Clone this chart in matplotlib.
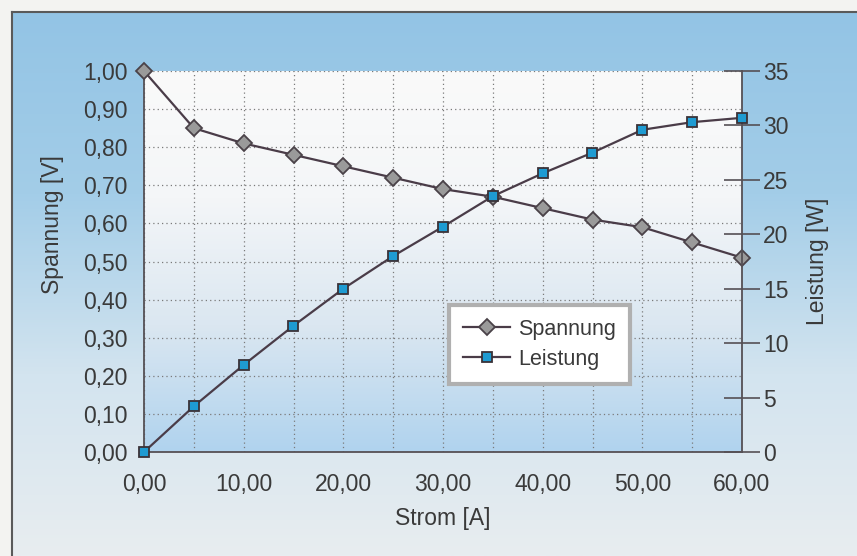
import numpy as np
import matplotlib
matplotlib.use("Agg")
import matplotlib.pyplot as plt
from matplotlib.lines import Line2D
from matplotlib.colors import LinearSegmentedColormap

# Data
strom = [0, 5, 10, 15, 20, 25, 30, 35, 40, 45, 50, 55, 60]
spannung = [1.00, 0.85, 0.81, 0.78, 0.75, 0.72, 0.69, 0.67, 0.64, 0.61, 0.59, 0.55, 0.51]
leistung = [0.0, 4.2, 8.0, 11.6, 15.0, 18.0, 20.7, 23.5, 25.6, 27.5, 29.6, 30.3, 30.7]
x_ticks = [0, 10, 20, 30, 40, 50, 60]
x_labels = ["0,00", "10,00", "20,00", "30,00", "40,00", "50,00", "60,00"]
y1_ticks = [0.0, 0.1, 0.2, 0.3, 0.4, 0.5, 0.6, 0.7, 0.8, 0.9, 1.0]
y1_labels = ["0,00", "0,10", "0,20", "0,30", "0,40", "0,50", "0,60", "0,70", "0,80", "0,90", "1,00"]
y2_ticks = [0, 5, 10, 15, 20, 25, 30, 35]

plt.rcParams['font.family'] = ['Liberation Sans', 'DejaVu Sans']
TXT = '#3a3a3a'
LINE = '#4a3c48'
FS = 16.5

W, H = 857, 556
fig = plt.figure(figsize=(W / 100, H / 100), dpi=100)
fig.patch.set_facecolor('#f3f3f1')

# Framed gradient background
bg = fig.add_axes([12 / W, 0, 1 - 12 / W, 1 - 12 / H])
bg_cmap = LinearSegmentedColormap.from_list('bg', ['#e8edf0', '#d3e4ef', '#a3cde8', '#93c4e5'])
grad = np.linspace(0, 1, 256).reshape(-1, 1)
bg.imshow(grad, aspect='auto', cmap=bg_cmap, origin='lower', extent=[0, 1, 0, 1])
bg.set_xlim(0, 1); bg.set_ylim(0, 1)
bg.set_xticks([]); bg.set_yticks([])
for s in ['right', 'bottom']:
    bg.spines[s].set_visible(False)
for s in ['left', 'top']:
    bg.spines[s].set_color('#5a5a5a')
    bg.spines[s].set_linewidth(1.5)

# Main axes
left, right, top, bottom = 144, 742, 71, 452
ax = fig.add_axes([left / W, 1 - bottom / H, (right - left) / W, (bottom - top) / H])
ax.set_xlim(0, 60)
ax.set_ylim(0, 1)
pa_cmap = LinearSegmentedColormap.from_list('pa', ['#b0d3ee', '#dbe7f1', '#f4f6f8', '#fafafa'])
ax.imshow(grad, aspect='auto', cmap=pa_cmap, origin='lower', extent=[0, 60, 0, 1], zorder=0)

ax.set_xticks(x_ticks)
ax.set_xticklabels(x_labels)
ax.set_xticks(strom, minor=True)
ax.set_yticks(y1_ticks)
ax.set_yticklabels(y1_labels)
ax.grid(True, which='both', axis='x', linestyle=(0, (1, 2.5)), color='#7a7a7a', linewidth=0.9)
ax.grid(True, which='major', axis='y', linestyle=(0, (1, 2.5)), color='#7a7a7a', linewidth=0.9)
ax.set_axisbelow(True)
ax.tick_params(axis='both', which='both', length=0, labelsize=FS, colors=TXT)
ax.tick_params(axis='x', pad=15)
ax.tick_params(axis='y', pad=12)
for s in ['top', 'right']:
    ax.spines[s].set_visible(False)
for s in ['left', 'bottom']:
    ax.spines[s].set_color('#555055')
    ax.spines[s].set_linewidth(1.3)

ax.plot(strom, spannung, color=LINE, linewidth=1.6, marker='D', markersize=8.5,
        markerfacecolor='#9a9a9a', markeredgecolor='#4a4248', markeredgewidth=1.3,
        zorder=5, clip_on=False)
ax.set_xlabel('Strom [A]', fontsize=FS, color=TXT)
ax.xaxis.set_label_coords(0.5, -(518 - 452) / (bottom - top), transform=ax.transAxes)
ax.set_ylabel('Spannung [V]', fontsize=FS, color=TXT)
ax.yaxis.set_label_coords(-(144 - 53) / (right - left), (452 - 225) / (bottom - top),
                          transform=ax.transAxes)
ax.xaxis.label.set_verticalalignment('center')
ax.yaxis.label.set_verticalalignment('center')

ax2 = ax.twinx()
ax2.set_ylim(0, 35)
ax2.set_yticks(y2_ticks)
ax2.tick_params(axis='y', direction='inout', length=26, width=1.2, color='#555055',
                labelsize=FS, labelcolor=TXT, pad=2)
for s in ['top', 'left', 'bottom']:
    ax2.spines[s].set_visible(False)
ax2.spines['right'].set_color('#555055')
ax2.spines['right'].set_linewidth(1.3)
ax2.plot(strom, leistung, color=LINE, linewidth=1.6, marker='s', markersize=7,
         markerfacecolor='#1e9bd2', markeredgecolor='#3a3238', markeredgewidth=1.3,
         zorder=5, clip_on=False)
ax2.set_ylabel('Leistung [W]', fontsize=FS, color=TXT)
ax2.yaxis.set_label_coords(1 + (818 - 742) / (right - left), 0.5, transform=ax.transAxes)
ax2.yaxis.label.set_verticalalignment('center')

handles = [
    Line2D([], [], color=LINE, linewidth=1.6, marker='D', markersize=8.5,
           markerfacecolor='#9a9a9a', markeredgecolor='#4a4248', markeredgewidth=1.3),
    Line2D([], [], color=LINE, linewidth=1.6, marker='s', markersize=7,
           markerfacecolor='#1e9bd2', markeredgecolor='#3a3238', markeredgewidth=1.3),
]
leg = ax2.legend(handles, ['Spannung', 'Leistung'], loc='upper left',
                 bbox_to_anchor=(449 / W, 1 - 305 / H), bbox_transform=fig.transFigure,
                 fontsize=15.5, frameon=True, fancybox=False, framealpha=1,
                 edgecolor='#b0b0b0', facecolor='white', handlelength=2.2,
                 borderpad=0.65, labelspacing=0.4, handletextpad=0.35, borderaxespad=0)
leg.get_frame().set_linewidth(3)
for t in leg.get_texts():
    t.set_color(TXT)

fig.savefig('out.png', dpi=100)
